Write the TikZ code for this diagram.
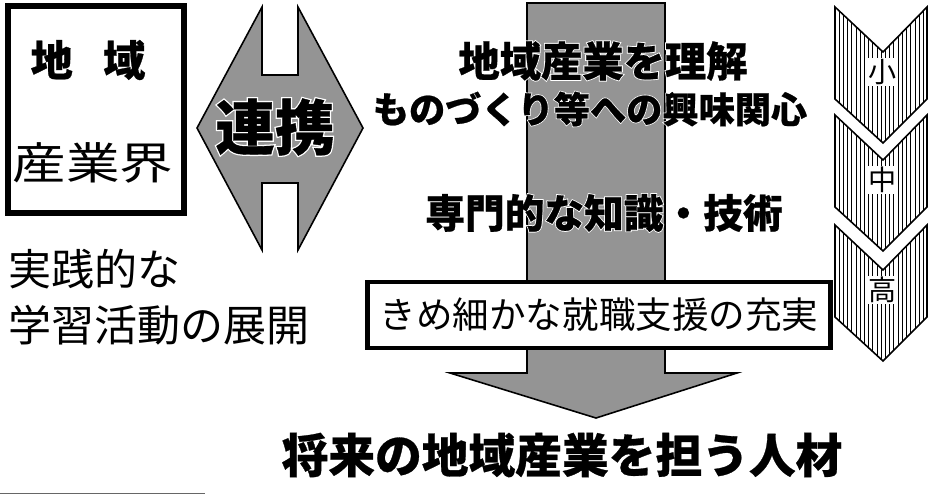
\documentclass[tikz,border=0pt]{standalone}
\usepackage{fontspec}
\usepackage{tikz}
\usetikzlibrary{patterns.meta, positioning}
\newfontfamily\jp{Noto Sans CJK JP}
\newfontfamily\jpheavy[BoldFeatures={FakeBold=0.6}]{Noto Sans CJK JP}
\newfontfamily\jphalo[BoldFeatures={FakeBold=5}]{Noto Sans CJK JP}
\newcommand{\halo}[1]{\makebox[0pt][l]{\color{white}\jphalo\bfseries #1}#1}
\def\renkeishape{(197,128) -- (262,7) -- (262,75) -- (298,75) -- (298,7) -- (363,128) -- (298,250) -- (298,183) -- (262,183) -- (262,250) -- cycle}
\def\mainarrow{(527,3) -- (665,3) -- (665,373) -- (737,373) -- (596,418) -- (450,373) -- (527,373) -- cycle}
\def\chiikibox{(8,6) rectangle (184,213)}

\begin{document}
\begin{tikzpicture}[x=0.02cm, y=-0.02cm,
    jpbold/.style = {font=\jpheavy\bfseries\fontsize{#1}{#1}\selectfont, inner sep=0pt},
    jpreg/.style = {font=\jp\fontsize{#1}{#1}\selectfont, inner sep=0pt},
    stipple/.style = {fill=black!42, draw=black, line width=0.9pt},
    hatch/.style = {pattern={Lines[angle=90, distance=2.4pt, line width=0.55pt]}, draw=black, line width=0.9pt}]
    \useasboundingbox (0,0) rectangle (928,495);
    % Riquadro a sinistra
    \draw[line width=3.4pt] \chiikibox;
    \node[jpbold=24] (chiiki) at (88,60) {地\hspace{0.72em}域};
    \node[jpreg=25, xscale=1.22] (sangyokai) at (93,163) {産業界};
    % Doppia freccia
    \fill[stipple] \renkeishape;
    \node[jpbold=34] (renkei) at (275,127) {\halo{連携}};
    % Testo sotto il riquadro
    \node[jpreg=24.5, anchor=west] (jissen) at (8,269) {実践的な};
    \node[jpreg=24.5, anchor=west] (gakushu) at (8,325) {学習活動の展開};
    % Freccia centrale
    \fill[stipple] \mainarrow;
    \node[jpbold=23.5] (rikai) at (603,61) {\halo{地域産業を理解}};
    \node[jpbold=20.6] (kyomi) at (590,109) {\halo{ものづくり等への興味関心}};
    \node[jpbold=22.6] (chishiki) at (604,213) {\halo{専門的な知識・技術}};
    \node[jpreg=20.8, draw, line width=2.8pt, fill=white, minimum width=9.26cm, minimum height=1.32cm] (shien) at (599,315) {きめ細かな就職支援の充実};
    \node[jpbold=26.6] (jinzai) at (562,455) {将来の地域産業を担う人材};
    % Frecce a destra
    \foreach \y/\t/\n in {7/小/sho, 115/中/chu, 225/高/ko}{
        \draw[hatch] (835,\y) -- (883,{\y+45}) -- (927,\y) -- (927,{\y+92}) -- (883,{\y+136}) -- (835,{\y+92}) -- cycle;
        \node[jpreg=16, fill=white, inner sep=0.8pt] (\n) at (883,{\y+65}) {\t};
    }
    % Linea in basso
    \draw[black!60, line width=0.5pt] (0,493) -- (205,493);
\end{tikzpicture}
\end{document}
